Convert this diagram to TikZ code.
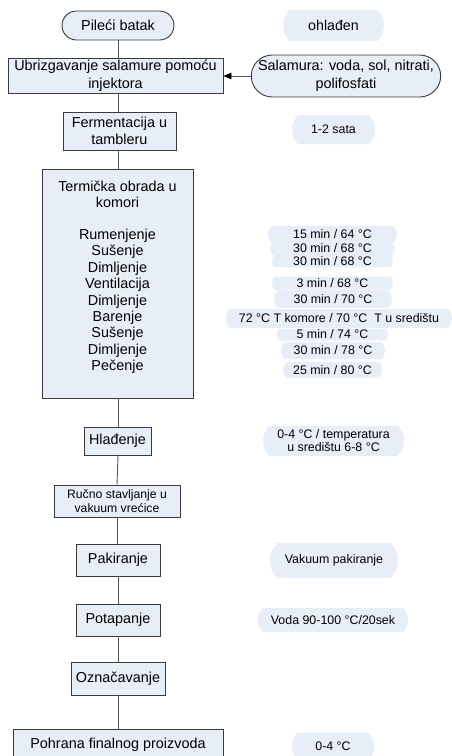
\documentclass[tikz,border=0pt]{standalone}
\usepackage{fontspec}
\setmainfont{Liberation Sans}
\usetikzlibrary{shapes.misc,arrows.meta}
\definecolor{boxfill}{HTML}{E8EEF7}
\definecolor{blobfill}{HTML}{E8EEF7}
\definecolor{boxline}{HTML}{3A3A3A}
\definecolor{linkclr}{HTML}{555555}
\begin{document}
\begin{tikzpicture}[x=1pt,y=-1pt,
  every node/.style={font=\fontsize{14.4}{17.5}\selectfont, inner sep=0pt, align=center},
  procbox/.style={rectangle, draw=boxline, fill=boxfill, line width=0.9pt},
  termbox/.style={rounded rectangle, draw=boxline, fill=boxfill, line width=0.9pt},
  blob/.style={rounded rectangle, rounded rectangle arc length=90, fill=blobfill, draw=none,
               font=\fontsize{12.4}{13}\selectfont},
  link/.style={draw=linkclr, line width=0.9pt}]
\clip (0,0) rectangle (452,756);
% main column
\node[termbox, minimum width=112, minimum height=29] (pileci) at (118,25.5) {Pileći batak};
\node[procbox, minimum width=215, minimum height=35] (ubr) at (115.5,75.5) {Ubrizgavanje salamure pomoću\\injektora};
\node[termbox, minimum width=188, minimum height=42] (sal) at (346,76) {Salamura: voda, sol, nitrati,\\polifosfati};
\node[procbox, minimum width=113, minimum height=38] (ferm) at (119.5,131) {Fermentacija u\\tambleru};
\node[procbox, minimum width=151, minimum height=229] (term) at (117.5,283.5) {};
\node[font=\fontsize{14.4}{16.4}\selectfont, anchor=north] (termtxt) at (117.5,180.5)
  {Termička obrada u\\komori\\[15.6pt]Rumenjenje\\Sušenje\\Dimljenje\\Ventilacija\\Dimljenje\\Barenje\\Sušenje\\Dimljenje\\Pečenje};
\node[procbox, minimum width=67, minimum height=28] (hlad) at (117.5,441) {Hlađenje};
\node[procbox, minimum width=126, minimum height=32, font=\fontsize{12.2}{13.5}\selectfont] (rucno) at (117,501) {Ručno stavljanje u\\vakuum vrećice};
\node[procbox, minimum width=84, minimum height=32] (pak) at (118,560) {Pakiranje};
\node[procbox, minimum width=84, minimum height=32] (pot) at (118,620) {Potapanje};
\node[procbox, minimum width=94, minimum height=33] (ozn) at (118,678.5) {Označavanje};
\node[procbox, minimum width=210, minimum height=31] (pohr) at (118,744.5) {Pohrana finalnog proizvoda};
% side labels
\node[blob, minimum width=101, minimum height=31, font=\fontsize{14.2}{17}\selectfont] (ohl) at (333.5,25.5) {ohlađen};
\node[blob, minimum width=83, minimum height=29] (sata) at (333.5,129.5) {1-2 sata};
\node[blob, minimum width=129, minimum height=16] (l1) at (332.5,234) {15 min / 64 °C};
\node[blob, minimum width=125, minimum height=13] (l2) at (332.5,248.5) {30 min / 68 °C};
\node[blob, minimum width=121, minimum height=12] (l3) at (332.5,261) {30 min / 68 °C};
\node[blob, minimum width=121, minimum height=13] (l4) at (332.5,283) {3 min / 68 °C};
\node[blob, minimum width=118, minimum height=18] (l5) at (333,299) {30 min / 70 °C};
\node[blob, minimum width=226, minimum height=19] (l6) at (339,318.5) {72 °C T komore / 70 °C\ \ T u središtu};
\node[blob, minimum width=111, minimum height=12] (l7) at (332.5,334.5) {5 min / 74 °C};
\node[blob, minimum width=104, minimum height=17] (l8) at (333,350.5) {30 min / 78 °C};
\node[blob, minimum width=99, minimum height=16] (l9) at (332.5,370) {25 min / 80 °C};
\node[blob, minimum width=141, minimum height=30] (hl) at (333.5,441) {0-4 °C / temperatura\\u središtu 6-8 °C};
\node[blob, minimum width=128, minimum height=35] (vak) at (334,560.5) {Vakuum pakiranje};
\node[blob, minimum width=150, minimum height=24] (voda) at (333,620) {Voda 90-100 °C/20sek};
\node[blob, minimum width=82, minimum height=27] (poh) at (333,746) {0-4 °C};
% connectors
\draw[link] (pileci.south) -- (pileci.south |- ubr.north);
\draw[link] (pileci.south |- ubr.south) -- (pileci.south |- ferm.north);
\draw[link] (pileci.south |- ferm.south) -- (pileci.south |- term.north);
\draw[link] (pileci.south |- term.south) -- (pileci.south |- hlad.north);
\draw[link] (pileci.south |- hlad.south) -- (rucno.north);
\draw[link] (rucno.south) -- (rucno.south |- pak.north);
\draw[link] (pileci.south |- pak.south) -- (pileci.south |- pot.north);
\draw[link] (pileci.south |- pot.south) -- (pileci.south |- ozn.north);
\draw[link] (pileci.south |- ozn.south) -- (pileci.south |- pohr.north);
\draw[link, -{Triangle[length=8pt,width=6.5pt,color=black]}] (sal.west) -- (sal.west -| ubr.east);
\end{tikzpicture}
\end{document}
